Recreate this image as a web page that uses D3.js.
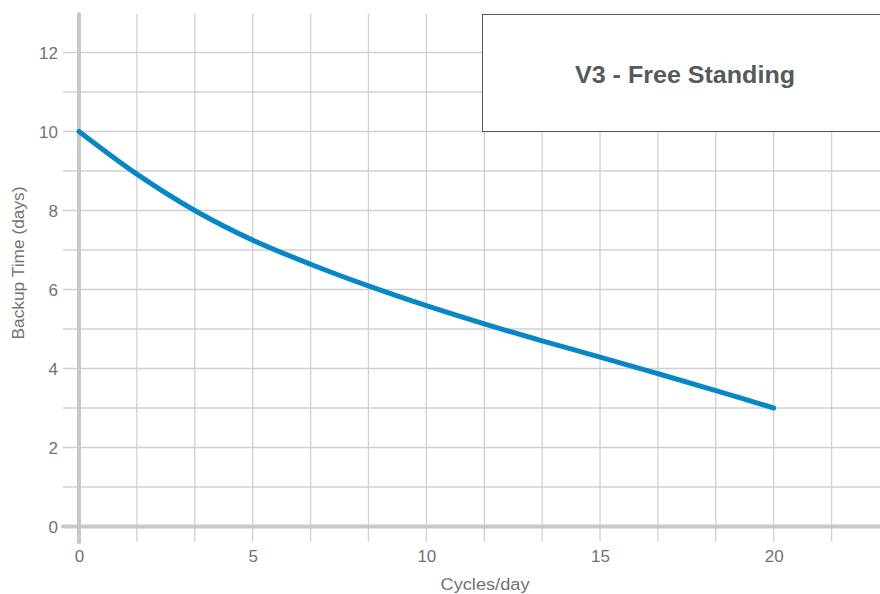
<!DOCTYPE html>
<html><head><meta charset="utf-8">
<script src="https://cdn.jsdelivr.net/npm/d3@7"></script>
<style>html,body{margin:0;padding:0;background:#fff;}svg{display:block;}</style>
</head><body>
<script>
const cyclesPerDay = [0, 1.667, 3.333, 5, 6.667, 8.333, 10, 11.667, 13.333, 15, 16.667, 18.333, 20];
const backupDays   = [10, 8.92, 8.0, 7.25, 6.64, 6.09, 5.59, 5.13, 4.7, 4.29, 3.87, 3.44, 3.0];
const xTickLabels = [0, 5, 10, 15, 20];
const yTickLabels = [0, 2, 4, 6, 8, 10, 12];
const xGridValues = [1.667, 3.333, 5, 6.667, 8.333, 10, 11.667, 13.333, 15, 16.667, 18.333, 20, 21.667];
const yGridValues = [1, 2, 3, 4, 5, 6, 7, 8, 9, 10, 11, 12];
const seriesTitle = "V3 - Free Standing";
const xTitle = "Cycles/day";
const yTitle = "Backup Time (days)";

const W = 880, H = 594;
const svg = d3.select("body").append("svg").attr("width", W).attr("height", H);
const x = d3.scaleLinear().domain([0, 20]).range([79, 773.7]);
const y = d3.scaleLinear().domain([0, 13]).range([526.5, 13]);
const font = "'Liberation Sans', Arial, Helvetica, sans-serif";
const gridC = "#d0d0d0", axisC = "#c8c8c8", textC = "#707375";

// vertical grid
svg.append("g").selectAll("line").data(xGridValues).join("line")
  .attr("x1", d => x(d)).attr("x2", d => x(d))
  .attr("y1", 14).attr("y2", 541.5)
  .attr("stroke", gridC).attr("stroke-width", 1.3);
// horizontal grid
svg.append("g").selectAll("line").data(yGridValues).join("line")
  .attr("x1", 63).attr("x2", W)
  .attr("y1", d => y(d)).attr("y2", d => y(d))
  .attr("stroke", gridC).attr("stroke-width", 1.3);

// axes lines
svg.append("line").attr("x1", x(0)).attr("x2", x(0)).attr("y1", 14).attr("y2", 542)
  .attr("stroke", axisC).attr("stroke-width", 4).attr("stroke-linecap", "round");
svg.append("line").attr("x1", 63).attr("x2", W + 5).attr("y1", y(0)).attr("y2", y(0))
  .attr("stroke", axisC).attr("stroke-width", 4).attr("stroke-linecap", "round");

// tick labels
const xAxis = d3.axisBottom(x).tickValues(xTickLabels).tickSize(0).tickPadding(0);
const gx = svg.append("g").attr("transform", `translate(0,${y(0)})`).call(xAxis);
gx.select(".domain").remove();
gx.selectAll("text").attr("y", 35).attr("dy", 0).attr("fill", textC)
  .style("font-family", font).style("font-size", "17px");

const yAxis = d3.axisLeft(y).tickValues(yTickLabels).tickSize(0).tickPadding(0);
const gy = svg.append("g").attr("transform", `translate(58,0)`).call(yAxis);
gy.select(".domain").remove();
gy.selectAll("text").attr("x", 0).attr("dy", "0.36em").attr("fill", textC)
  .style("font-family", font).style("font-size", "17px");

// axis titles
svg.append("text").attr("x", 485).attr("y", 590).attr("text-anchor", "middle")
  .attr("textLength", 89).attr("lengthAdjust", "spacingAndGlyphs")
  .attr("fill", textC).style("font-family", font).style("font-size", "16px").text(xTitle);
svg.append("text").attr("transform", "translate(24,263) rotate(-90)").attr("text-anchor", "middle")
  .attr("textLength", 153).attr("lengthAdjust", "spacingAndGlyphs")
  .attr("fill", textC).style("font-family", font).style("font-size", "16px").text(yTitle);

// line
const line = d3.line().x((d, i) => x(cyclesPerDay[i])).y(d => y(d)).curve(d3.curveCatmullRom.alpha(0.5));
svg.append("path").datum(backupDays).attr("d", line)
  .attr("fill", "none").attr("stroke", "#0788c6").attr("stroke-width", 5)
  .attr("stroke-linecap", "round").attr("stroke-linejoin", "round");

// title box
svg.append("rect").attr("x", 482.5).attr("y", 14.5).attr("width", 420).attr("height", 117)
  .attr("fill", "#fff").attr("stroke", "#555a5c").attr("stroke-width", 1);
svg.append("text").attr("x", 685).attr("y", 83).attr("text-anchor", "middle")
  .attr("textLength", 220).attr("lengthAdjust", "spacingAndGlyphs")
  .attr("fill", "#555a5c").style("font-family", font).style("font-weight", "bold")
  .style("font-size", "24px").text(seriesTitle);
</script>
</body></html>
